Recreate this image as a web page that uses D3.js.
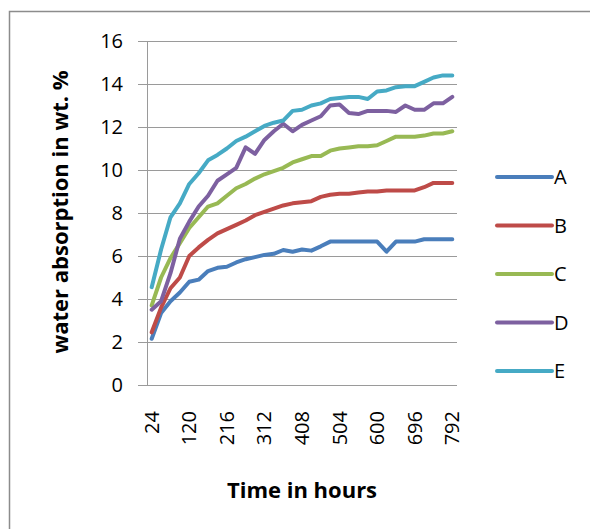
<!DOCTYPE html>
<html><head><meta charset="UTF-8">
<style>
  body { margin: 0; background: #fff; font-family: "Open Sans", Arial, sans-serif; }
  svg { display: block; }
</style>
</head>
<body>
<svg id="chart"></svg>
<script src="https://cdn.jsdelivr.net/npm/d3@7/dist/d3.min.js"></script>
<script>
// time (hours) categories
var hours = [24, 48, 72, 96, 120, 144, 168, 192, 216, 240, 264, 288, 312, 336, 360, 384,
             408, 432, 456, 480, 504, 528, 552, 576, 600, 624, 648, 672, 696, 720, 744, 768, 792];
var xTickLabels = [24, 120, 216, 312, 408, 504, 600, 696, 792];
var yTicks = [0, 2, 4, 6, 8, 10, 12, 14, 16];
var seriesNames = ["A", "B", "C", "D", "E"];

// water absorption in wt. %
var seriesA = [2.15, 3.35, 3.9, 4.3, 4.8, 4.9, 5.3, 5.45, 5.5, 5.7, 5.85, 5.95, 6.05, 6.1, 6.28, 6.2,
               6.3, 6.25, 6.45, 6.67, 6.67, 6.67, 6.67, 6.67, 6.67, 6.2, 6.67, 6.67, 6.67, 6.78, 6.78, 6.78, 6.78];
var seriesB = [2.45, 3.6, 4.5, 5.0, 6.0, 6.4, 6.75, 7.05, 7.25, 7.45, 7.65, 7.9, 8.05, 8.2, 8.35, 8.45,
               8.5, 8.55, 8.75, 8.85, 8.9, 8.9, 8.95, 9.0, 9.0, 9.05, 9.05, 9.05, 9.05, 9.2, 9.4, 9.4, 9.4];
var seriesC = [3.7, 5.0, 5.9, 6.6, 7.3, 7.8, 8.3, 8.45, 8.8, 9.15, 9.35, 9.6, 9.8, 9.95, 10.1, 10.35,
               10.5, 10.65, 10.65, 10.9, 11.0, 11.05, 11.1, 11.1, 11.15, 11.35, 11.55, 11.55, 11.55, 11.6, 11.7, 11.7, 11.8];
var seriesD = [3.5, 3.9, 5.2, 6.8, 7.6, 8.3, 8.8, 9.5, 9.8, 10.1, 11.05, 10.75, 11.4, 11.8, 12.15, 11.8,
               12.1, 12.3, 12.5, 13.0, 13.05, 12.65, 12.6, 12.75, 12.75, 12.75, 12.7, 13.0, 12.8, 12.8, 13.1, 13.1, 13.4];
var seriesE = [4.55, 6.3, 7.8, 8.45, 9.35, 9.85, 10.45, 10.7, 11.0, 11.35, 11.55, 11.8, 12.05, 12.2, 12.3, 12.75,
               12.8, 13.0, 13.1, 13.3, 13.35, 13.4, 13.4, 13.3, 13.65, 13.7, 13.85, 13.9, 13.9, 14.1, 14.3, 14.4, 14.4];

var colors = ["#4a7ebb", "#be4b48", "#98b954", "#7d60a0", "#46aac5"];

var width = 590, height = 529;
var plot = { left: 147, right: 457, top: 41, bottom: 385 };

var svg = d3.select("#chart").attr("width", width).attr("height", height);

// outer chart frame (only top and left visible)
svg.append("path")
  .attr("d", "M9.5," + height + "V11.5H" + width)
  .attr("fill", "none")
  .attr("stroke", "#8c8c8c")
  .attr("stroke-width", 1.5);

var x = d3.scaleBand().domain(hours).range([plot.left, plot.right]).padding(0);
var y = d3.scaleLinear().domain([0, 16]).range([plot.bottom, plot.top]);

// gridlines
svg.append("g").selectAll("line")
  .data(yTicks)
  .enter().append("line")
  .attr("x1", plot.left - 9).attr("x2", plot.right)
  .attr("y1", function (d) { return y(d) + 0.5; })
  .attr("y2", function (d) { return y(d) + 0.5; })
  .attr("stroke", "#9a9a9a").attr("stroke-width", 1);

// y axis line
svg.append("line")
  .attr("x1", plot.left + 0.5).attr("x2", plot.left + 0.5)
  .attr("y1", plot.top).attr("y2", plot.bottom + 1)
  .attr("stroke", "#9a9a9a");

// y labels
var yAxis = d3.axisLeft(y).tickValues(yTicks).tickSize(0).tickPadding(24);
var gy = svg.append("g").attr("transform", "translate(" + plot.left + ",0)").call(yAxis);
gy.select(".domain").remove();
gy.selectAll("text").attr("font-family", "Open Sans").attr("font-size", 20).attr("fill", "#000");

// x labels
var xAxis = d3.axisBottom(x).tickValues(xTickLabels).tickSize(0);
var gx = svg.append("g").attr("transform", "translate(0," + plot.bottom + ")").call(xAxis);
gx.select(".domain").remove();
gx.selectAll("text")
  .attr("font-family", "Open Sans").attr("font-size", 20).attr("fill", "#000")
  .attr("transform", "rotate(-90)")
  .attr("text-anchor", "end")
  .attr("x", -26).attr("y", 0).attr("dy", "0.35em");

// axis titles
svg.append("text")
  .attr("transform", "translate(68,212) rotate(-90)")
  .attr("text-anchor", "middle")
  .attr("font-family", "Open Sans").attr("font-weight", "bold").attr("font-size", 22)
  .text("water absorption in wt. %");

svg.append("text")
  .attr("x", 302).attr("y", 498)
  .attr("text-anchor", "middle")
  .attr("font-family", "Open Sans").attr("font-weight", "bold").attr("font-size", 22)
  .text("Time in hours");

// lines
var allSeries = [seriesA, seriesB, seriesC, seriesD, seriesE];
var line = d3.line()
  .x(function (d, i) { return x(hours[i]) + x.bandwidth() / 2; })
  .y(function (d) { return y(d); });

svg.append("g").selectAll("path")
  .data(allSeries)
  .enter().append("path")
  .attr("d", line)
  .attr("fill", "none")
  .attr("stroke", function (d, i) { return colors[i]; })
  .attr("stroke-width", 4)
  .attr("stroke-linejoin", "round")
  .attr("stroke-linecap", "round");

// legend
var legend = svg.append("g").selectAll("g")
  .data(seriesNames)
  .enter().append("g")
  .attr("transform", function (d, i) { return "translate(497," + (177 + i * 48.5) + ")"; });
legend.append("line")
  .attr("x1", 0).attr("x2", 55)
  .attr("stroke", function (d, i) { return colors[i]; })
  .attr("stroke-width", 4)
  .attr("stroke-linecap", "round");
legend.append("text")
  .attr("x", 57).attr("dy", "0.36em")
  .attr("font-family", "Open Sans").attr("font-size", 20)
  .text(function (d) { return d; });
</script>
</body></html>
